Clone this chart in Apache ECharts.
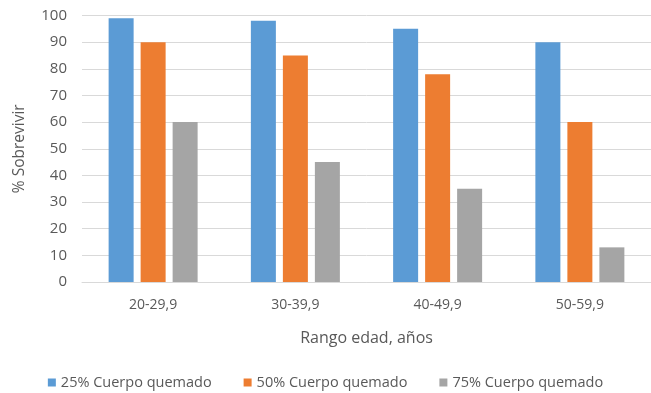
<!DOCTYPE html>
<html>
<head>
<meta charset="utf-8">
<script src="https://cdn.jsdelivr.net/npm/echarts@6/dist/echarts.min.js"></script>
<style>
  html, body { margin: 0; padding: 0; background: #fff; }
  #chart { width: 651px; height: 393px; }
</style>
</head>
<body>
<div id="chart"></div>
<script>
// Datos
var rangos = ['20-29,9', '30-39,9', '40-49,9', '50-59,9'];
var quemado25 = [99, 98, 95, 90];
var quemado50 = [90, 85, 78, 60];
var quemado75 = [60, 45, 35, 13];
var nombresSeries = ['25% Cuerpo quemado', '50% Cuerpo quemado', '75% Cuerpo quemado'];
var colores = ['#5B9BD5', '#ED7D31', '#A5A5A5'];

var fuente = '"Open Sans", sans-serif';
var colorTexto = '#595959';

var chart = echarts.init(document.getElementById('chart'));

var series = [quemado25, quemado50, quemado75].map(function (datos, i) {
    return {
        name: nombresSeries[i],
        type: 'bar',
        data: datos,
        barWidth: 25,
        barGap: '28%',
        itemStyle: { color: colores[i] }
    };
});

var option = {
    animation: false,
    textStyle: { fontFamily: fuente },
    grid: { left: 82, right: 0, top: 15.5, bottom: 111, containLabel: false },
    xAxis: {
        type: 'category',
        data: rangos,
        name: 'Rango edad, años',
        nameLocation: 'middle',
        nameGap: 48,
        nameTextStyle: { color: colorTexto, fontSize: 16, fontFamily: fuente },
        axisLine: { show: true, lineStyle: { color: '#d9d9d9', width: 1 } },
        axisTick: { show: false },
        axisLabel: { color: colorTexto, fontSize: 14, margin: 16, fontFamily: fuente }
    },
    yAxis: {
        type: 'value',
        min: 0,
        max: 100,
        interval: 10,
        name: '% Sobrevivir',
        nameLocation: 'middle',
        nameGap: 54,
        nameRotate: 90,
        nameTextStyle: { color: colorTexto, fontSize: 15.5, fontFamily: fuente },
        axisLine: { show: false },
        axisTick: { show: false },
        axisLabel: { color: colorTexto, fontSize: 15, margin: 15, fontFamily: fuente },
        splitLine: { lineStyle: { color: '#d9d9d9', width: 1 } }
    },
    legend: {
        data: nombresSeries,
        bottom: -2,
        left: 'center',
        icon: 'rect',
        itemWidth: 8,
        itemHeight: 8,
        itemGap: 32,
        itemStyle: { borderWidth: 0 },
        textStyle: { color: colorTexto, fontSize: 14.5, fontFamily: fuente }
    },
    series: series
};

chart.setOption(option);
</script>
</body>
</html>
